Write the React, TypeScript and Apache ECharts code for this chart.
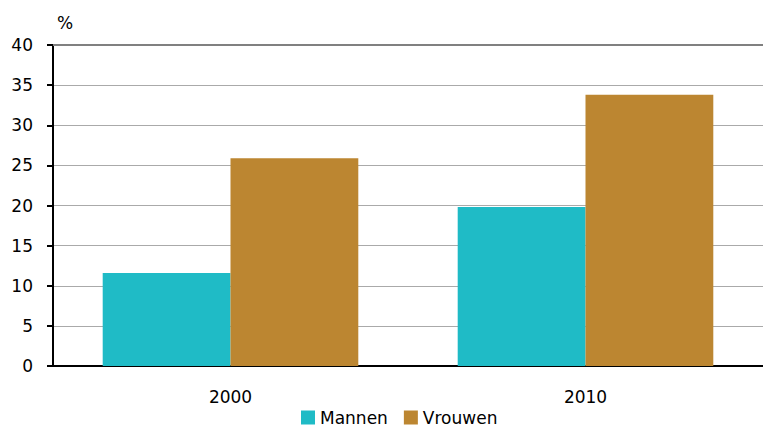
import React, { useEffect, useRef } from "react";
import * as echarts from "echarts";

const categories = ["2000", "2010"];
const mannen = [11.6, 19.8];
const vrouwen = [25.9, 33.8];
const seriesNames = ["Mannen", "Vrouwen"];
const yTicks = { min: 0, max: 40, interval: 5 };

export default function App() {
  const ref = useRef<HTMLDivElement>(null);
  useEffect(() => {
    document.body.style.margin = "0";
    const chart = echarts.init(ref.current!, null, { renderer: "svg" });
    const font = "DejaVu Sans, Liberation Sans, sans-serif";
    chart.setOption({
      animation: false,
      grid: { left: 53, right: 0, top: 45, bottom: 61, containLabel: false },
      legend: {
        data: seriesNames,
        left: 301,
        top: 409,
        padding: 0,
        itemWidth: 14,
        itemHeight: 14,
        itemGap: 16,
        icon: "rect",
        textStyle: {
          fontFamily: font,
          fontSize: 17,
          lineHeight: 17,
          color: "#000",
        },
      },
      xAxis: {
        type: "category",
        data: categories,
        axisLine: { lineStyle: { color: "#000", width: 2 } },
        axisTick: { show: false },
        axisLabel: { fontFamily: font, fontSize: 17, color: "#000", margin: 22 },
      },
      yAxis: {
        type: "value",
        min: yTicks.min,
        max: yTicks.max,
        interval: yTicks.interval,
        name: "%",
        nameLocation: "end",
        nameGap: 22,
        nameTextStyle: {
          fontFamily: font,
          fontSize: 17,
          color: "#000",
          align: "left",
          verticalAlign: "middle",
          padding: [0, 0, 0, 4],
        },
        axisLine: { show: true, lineStyle: { color: "#000", width: 2 } },
        axisTick: { show: true, length: 6, lineStyle: { color: "#000", width: 2 } },
        axisLabel: { fontFamily: font, fontSize: 17, color: "#000", margin: 20 },
        splitLine: { lineStyle: { color: "#aaaaaa", width: 1 } },
      },
      series: [
        {
          name: seriesNames[0],
          type: "bar",
          data: mannen,
          itemStyle: { color: "#1FBBC6" },
          barGap: "0%",
          barCategoryGap: "28%",
          markLine: {
            silent: true,
            symbol: "none",
            label: { show: false },
            lineStyle: { color: "#808080", width: 2, type: "solid" },
            data: [{ yAxis: 40 }],
          },
        },
        {
          name: seriesNames[1],
          type: "bar",
          data: vrouwen,
          itemStyle: { color: "#BC8631" },
          barGap: "0%",
          barCategoryGap: "28%",
        },
      ],
    });
    return () => chart.dispose();
  }, []);
  return <div ref={ref} style={{ width: 763, height: 427 }} />;
}
